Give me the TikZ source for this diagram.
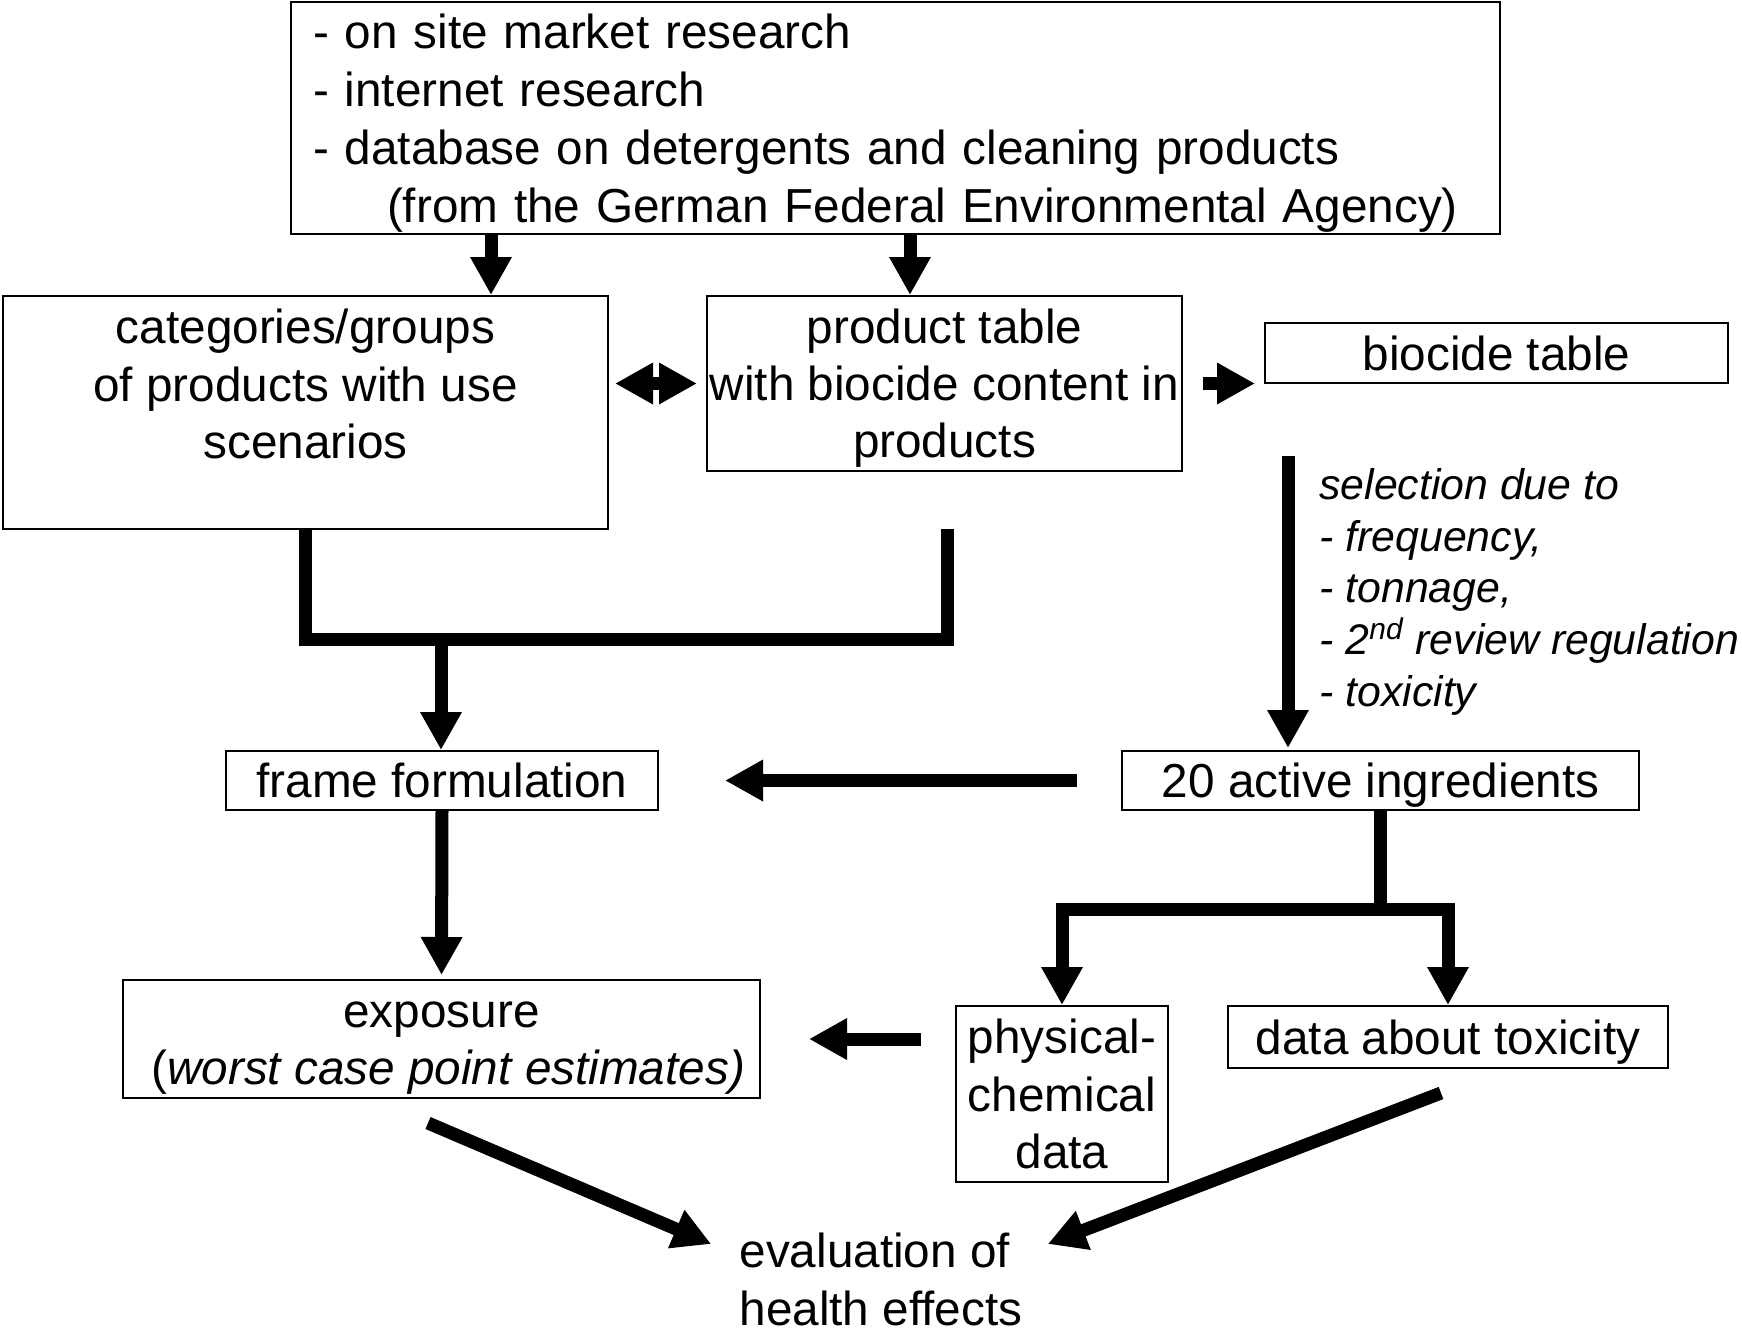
\documentclass[tikz,border=0pt]{standalone}
\usepackage{fontspec}
\setmainfont{Liberation Sans}
\usetikzlibrary{arrows.meta}
% last line of a box: keep its descenders out of the centering
\newcommand{\nd}[1]{\raisebox{0pt}[\height][0pt]{#1}}

\begin{document}
\begin{tikzpicture}[x=0.5pt, y=-0.5pt,
    >={Triangle[width=19.5pt,length=19pt]},
    txt/.style={font=\fontsize{23.85pt}{28.6pt}\selectfont},
    box/.style={txt, draw, line width=1pt, inner xsep=1pt, inner ysep=0pt, align=center},
    flow/.style={->, line width=6.5pt},
    bar/.style={line width=6.5pt}]
    \useasboundingbox (0,0) rectangle (1742,1335);

    % Sources
    \node[box, font=\fontsize{23.85pt}{29pt}\selectfont, align=left, text width=582.5pt, inner xsep=11pt, minimum height=116pt] (sources) at (895.5,118) {- on site market research\\- internet research\\- database on detergents and cleaning products\\\hspace*{37pt}\nd{(from the German Federal Environmental Agency)}};

    % Categories, product table and biocide table
    \node[box, minimum width=302.5pt, minimum height=116.5pt] (categories) at (305.5,412.5) {categories/groups\\of products with use\\scenarios\\\mbox{}};
    \node[box, minimum width=237.5pt, minimum height=87.5pt] (products) at (944.5,383.5) {product table\\with biocide content in\\\nd{products}};
    \node[box, minimum width=231.5pt, minimum height=30pt] (biocides) at (1496.5,353) {biocide table};

    % Selected ingredients and frame formulation
    \node[box, minimum width=258.5pt, minimum height=29.5pt] (actives) at (1380.5,780.5) {\nd{20 active ingredients}};
    \node[box, minimum width=216pt, minimum height=29.5pt] (frame) at (442,780.5) {frame formulation};

    % Exposure and data
    \node[box, minimum width=318.5pt, minimum height=59pt] (exposure) at (441.5,1039) {\vphantom{(}exposure\\\hspace*{0.28em}\nd{(\textit{worst case point estimates)}}};
    \node[box, minimum width=106pt, minimum height=88pt] (physchem) at (1062,1094) {physical-\\chemical\\data};
    \node[box, minimum width=220pt, minimum height=31pt] (toxicity) at (1448,1037) {\nd{data about toxicity}};

    % Outcome
    \node[txt, align=left, inner sep=0pt] (evaluation) at (881,1279.5) {evaluation of\\health effects};

    % Selection criteria
    \coordinate (selstart) at ([xshift=12pt,yshift=-36pt]biocides.south west);
    \node[anchor=north west, inner sep=0pt, align=left, font=\fontsize{21.4pt}{25.85pt}\selectfont\itshape] (criteria) at ([xshift=15.5pt,yshift=-6pt]selstart) {selection due to\\- frequency,\\- tonnage,\\- 2\textsuperscript{nd} review regulation\\- toxicity};

    % Arrows from the sources
    \coordinate (tapA) at ([xshift=100.5pt]sources.south west);
    \coordinate (tapB) at ([xshift=310pt]sources.south west);
    \draw[flow] (tapA) -- (tapA |- categories.north);
    \draw[flow] (tapB) -- (tapB |- products.north);

    \draw[flow, <->, shorten <=3pt, shorten >=4.5pt] (categories.east |- products.west) -- (products.west);
    \draw[flow, shorten <=10pt, shorten >=4.5pt] (products.east) -- (biocides.west |- products.east);
    \draw[flow, shorten >=1pt] (selstart) -- (selstart |- actives.north);

    % Merging into the frame formulation
    \coordinate (merge) at (441,639);
    \coordinate (prodend) at (947,529);
    \draw[bar] (categories.south) |- (merge) -| (prodend);
    \draw[flow] (merge) -- (merge |- frame.north);

    % From the selected ingredients
    \draw[flow, shorten <=22pt, shorten >=33pt] (actives.west) -- (frame.east);
    \draw[flow, shorten >=2pt] (frame.south) -- (exposure.north);
    \coordinate (split) at ([yshift=-49pt]actives.south);
    \draw[flow] (actives.south) -- (split) -| (physchem.north);
    \draw[flow] (split) -| (toxicity.north);
    \draw[flow, shorten <=17pt, shorten >=24pt] (physchem.west |- exposure.east) -- (exposure.east);

    % Towards the evaluation
    \draw[flow] ([xshift=-6.75pt,yshift=-12pt]exposure.south) -- ([xshift=-14pt,yshift=-5.5pt]evaluation.north west);
    \draw[flow] ([xshift=-3.5pt,yshift=-12pt]toxicity.south) -- ([xshift=12.5pt,yshift=-5.5pt]evaluation.north east);
\end{tikzpicture}
\end{document}
